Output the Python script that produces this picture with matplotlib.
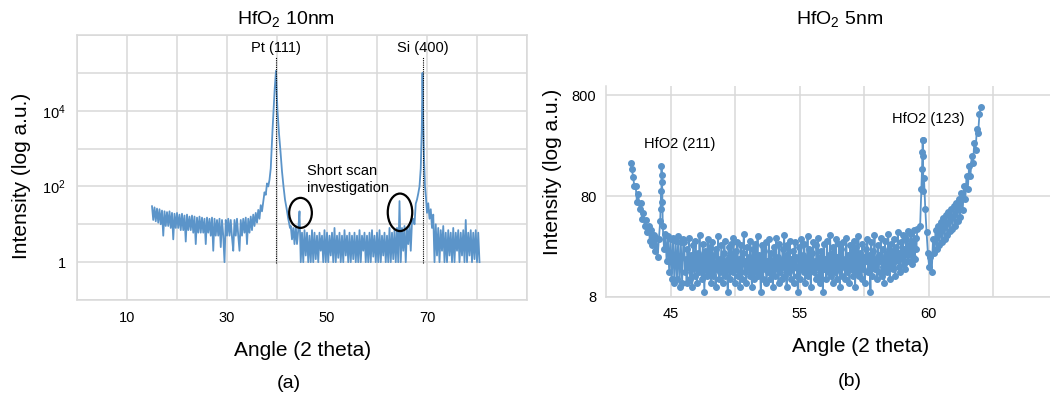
import numpy as np
import matplotlib
matplotlib.use("Agg")
import matplotlib.pyplot as plt
from matplotlib.patches import Ellipse
from matplotlib.ticker import NullFormatter, NullLocator
from matplotlib.transforms import ScaledTranslation

plt.rcParams['font.family'] = ['Liberation Sans', 'DejaVu Sans']
plt.rcParams['mathtext.fontset'] = 'custom'
plt.rcParams['mathtext.rm'] = 'Liberation Sans'
plt.rcParams['mathtext.it'] = 'Liberation Sans'

BLUE = '#5b94c9'
GRID = '#d9d9d9'

# ---- (a) HfO2 10nm, long scan -------------------------------------------
# background before Pt peak, from 15 deg, 0.25 deg step
a_bg1_start = 15.0
a_bg1 = [30, 13, 28, 12, 26, 11, 25, 10, 23, 5,
         22, 9, 21, 9, 22, 8, 20, 4, 19, 8,
         20, 8, 18, 7, 19, 7, 17, 3.5, 18, 7,
         16, 7, 17, 6, 16, 3, 15, 6, 16, 6,
         15, 6, 14, 3, 15, 6, 14, 5, 15, 2,
         14, 5, 13, 5, 14, 2.5, 13, 5, 1, 13,
         5, 14, 5, 13, 4.5, 2, 13, 5, 14, 5,
         2, 13, 5, 14, 6, 15, 3, 14, 6, 16,
         7, 18, 9, 20, 11, 24, 14, 32, 22]
# Pt (111) peak
pt_x = [37.25, 37.5, 37.75, 38.0, 38.25, 38.5, 38.75, 38.9, 39.1, 39.3, 39.55,
        39.8, 39.95, 40.1, 40.4, 40.7, 41.0, 41.3, 41.6, 41.9, 42.25, 42.6]
pt_y = [40, 70, 60, 120, 100, 150, 300, 830, 3000, 10000, 40000,
        113000, 30000, 10000, 2500, 830, 250, 100, 45, 27, 14, 8]
# background between the peaks, 0.25 deg step
a_bg2_start = 42.75
a_bg2 = [9, 4, 8, 3, 9, 3, 7, 22, 1, 6,
         1, 7, 1.5, 6, 1, 5, 1, 7, 1, 6,
         1.2, 5, 1, 6, 2, 5, 1, 7, 1, 6,
         1, 5, 1.5, 6, 1, 8, 1, 5, 1.3, 6,
         1, 5, 1, 7, 1.5, 5, 1, 6, 1, 5,
         1.2, 6, 1, 5, 1, 7, 1, 5, 2, 6,
         1, 5, 1, 6, 1, 7, 1.4, 5, 1, 6,
         1, 7, 1, 5, 1.5, 6, 1, 5, 1, 8,
         1, 6, 1.2, 7, 1, 8, 1, 41, 1, 8,
         2, 9, 1, 8, 3, 10, 2, 12]
# Si (400) peak
si_x = [67.25, 67.5, 67.75, 68.0, 68.25, 68.5, 68.75, 68.95, 69.1, 69.25,
        69.4, 69.6, 69.8, 70.0, 70.25, 70.5, 70.75, 71.0, 71.25]
si_y = [14, 10, 35, 45, 65, 100, 300, 3000, 100000, 5000,
        600, 100, 50, 20, 36, 14, 25, 8, 18]
# background after Si peak
a_bg3_start = 71.5
a_bg3 = [1, 10, 1.5, 8, 1, 7, 2, 9, 1, 6,
         1, 7, 1.5, 6, 1, 8, 1, 6, 2, 7,
         1, 6, 1.5, 7, 1, 13, 1, 6, 1.5, 7,
         1, 6, 1.2, 7, 1, 6, 1]

a_ref_x = [39.85, 69.1]
a_ref_labels = ['Pt (111)', 'Si (400)']
a_xticks = [10, 30, 50, 70]
a_yticks = [1, 1e2, 1e4]
a_yticklabels = ['1', '$10^2$', '$10^4$']
a_circles = [(44.7, 20), (64.6, 20.7)]            # (angle, intensity) centres
a_circle_size = [(0.227, 0.30), (0.245, 0.375)]   # inches

# ---- (b) HfO2 5nm, short scan -------------------------------------------
# x in gridline units of the original axis
b_bg1_start = 0.38
b_bg1 = [170, 150, 124, 100, 100, 70, 84, 60, 68, 47,
         54, 40, 46, 35, 40, 29, 37, 26, 33, 23,
         31, 20, 30, 45, 60, 40, 24, 34, 18, 32,
         14, 30, 12, 31, 11, 29, 12, 32, 10, 28,
         11, 30]
p211_x = [0.855, 0.86, 0.865, 0.87, 0.875]
p211_y = [90, 158, 130, 110, 70]
b_bg2_start = 1.2125
b_bg2 = [28, 14, 19, 11, 24, 16, 31, 12, 21, 15,
         10, 26, 18, 13, 29, 17, 11, 22, 14, 33,
         16, 20, 12, 27, 15, 9, 23, 18, 13, 30,
         19, 14, 25, 11, 17, 28, 13, 21, 16, 10,
         24, 15, 32, 12, 19, 14, 26, 17, 11, 22,
         29, 13, 18, 15, 9, 25, 20, 12, 27, 16,
         14, 31, 18, 11, 23, 15, 28, 13, 19, 10,
         26, 17, 12, 22, 34, 14, 18, 11, 25, 16,
         20, 13, 29, 15, 10, 24, 18, 12, 27, 14,
         17, 32, 13, 21, 16, 9, 26, 19, 12, 23,
         15, 28, 11, 18, 14, 30, 17, 12, 22, 16,
         10, 25, 19, 13, 31, 15, 20, 11, 27, 14,
         18, 12, 24, 16, 33, 13, 21, 10, 26, 17,
         14, 29, 12, 19, 15, 23, 11, 28, 16, 20,
         13, 9, 25, 18, 12, 30, 15, 21, 14, 27,
         11, 19, 16, 32, 13, 24, 17, 10, 22, 15,
         28, 14, 18, 12, 26, 16, 31, 13, 20, 11,
         23, 17, 9, 27, 15, 19, 12, 29, 14, 21,
         16, 33, 13, 22, 11, 25, 18, 14, 30, 12,
         20, 15, 27, 10, 24, 17, 13, 28, 16, 19,
         12, 31, 14, 21, 18, 11, 26, 15, 23, 13,
         29, 16, 10, 25, 19, 14, 32, 13, 22, 17,
         12, 27, 15, 20, 11, 24, 18, 30, 14, 21,
         16, 9, 28, 13, 23, 17, 33, 15, 19, 12,
         26, 14, 21, 18, 31, 13, 24, 16, 11, 29,
         17, 22, 14, 34, 19, 12, 27, 16, 23, 15,
         30, 18, 13, 25, 20, 35, 16, 22, 14, 28,
         19, 33, 17, 24, 15, 30, 21, 36, 18, 26,
         22, 34, 17, 29, 20, 37, 19, 31, 24, 38]
b_bg3_start = 4.87
b_bg3 = [40, 95, 287, 120, 60, 35, 22, 16, 20, 14,
         30, 22, 37, 24, 40, 26, 44, 28, 48, 30,
         52, 33, 56, 36, 60, 38, 64, 40, 68, 45,
         75, 50, 85, 58, 100, 75, 125, 95, 160, 125,
         200, 170, 270, 230, 370, 340, 520, 610]
p123_x = [4.9, 4.905, 4.91, 4.915, 4.92]
p123_y = [150, 220, 287, 200, 90]
b_xticks = [1, 3, 5]
b_xticklabels = ['45', '55', '60']
b_yticks = [8, 80, 800]
b_ref = [(1.15, 262, 'HfO2 (211)'), (4.99, 463, 'HfO2 (123)')]


def steps(start, vals, step):
    return start + step * np.arange(len(vals))


a_x = np.concatenate([steps(a_bg1_start, a_bg1, 0.25), pt_x,
                      steps(a_bg2_start, a_bg2, 0.25), si_x,
                      steps(a_bg3_start, a_bg3, 0.25)])
a_y = np.concatenate([a_bg1, pt_y, a_bg2, si_y, a_bg3]).astype(float)
o = np.argsort(a_x, kind='stable')
a_x, a_y = a_x[o], a_y[o]

b_x = np.concatenate([steps(b_bg1_start, b_bg1, 0.02), p211_x,
                      steps(b_bg2_start, b_bg2, 0.0125),
                      steps(b_bg3_start, b_bg3, 0.02), p123_x])
b_y = np.concatenate([b_bg1, p211_y, b_bg2, b_bg3, p123_y]).astype(float)
o = np.argsort(b_x, kind='stable')
b_x, b_y = b_x[o], b_y[o]

W, H = 1050, 396
fig = plt.figure(figsize=(W / 100, H / 100), dpi=100)

# ---------------- panel (a)
ax = fig.add_axes([77 / W, 1 - 300 / H, 450 / W, 265 / H])
ax.plot(a_x, a_y, color=BLUE, lw=1.3, zorder=3)
ax.set_yscale('log')
ax.set_xlim(0, 90)
ax.set_ylim(0.1, 1e6)
ax.set_xticks(np.arange(0, 91, 10), minor=True)
ax.set_xticks(a_xticks)
ax.set_yticks([10.0 ** k for k in range(-1, 7)], minor=True)
ax.set_yticks(a_yticks)
ax.set_yticklabels(a_yticklabels)
ax.yaxis.set_minor_formatter(NullFormatter())
ax.grid(True, which='both', color=GRID, lw=1.1, zorder=0)
ax.tick_params(which='both', length=0, labelsize=10.5, pad=8)
for s in ax.spines.values():
    s.set_color(GRID)
    s.set_linewidth(1.1)
for xr, lab in zip(a_ref_x, a_ref_labels):
    ax.plot([xr, xr], [0.95, 2.6e5], color='black', ls=(0, (1, 1)), lw=0.8, zorder=4)
    ax.text(xr, 4.6e5, lab, ha='center', va='center', fontsize=10.5)
ax.text(46, 150, 'Short scan\ninvestigation', ha='left', va='center',
        fontsize=10.5, linespacing=1.25)
for (cx, cy), (w, h) in zip(a_circles, a_circle_size):
    tr = fig.dpi_scale_trans + ScaledTranslation(cx, cy, ax.transData)
    ax.add_patch(Ellipse((0, 0), w, h, transform=tr, fill=False,
                         ec='black', lw=1.6, zorder=5))
fig.text(286 / W, 1 - 19 / H, 'HfO$_2$ 10nm', ha='center', va='center', fontsize=14)
fig.text(22 / W, 1 - 176 / H, 'Intensity (log a.u.)', rotation=90,
         ha='center', va='center', fontsize=15)
fig.text(303 / W, 1 - 351 / H, 'Angle (2 theta)', ha='center', va='center', fontsize=15)
fig.text(289 / W, 1 - 383 / H, '(a)', ha='center', va='center', fontsize=14)

# ---------------- panel (b)
bx = fig.add_axes([606 / W, 1 - 297 / H, (W - 606) / W, 211 / H])
bx.plot(b_x, b_y, color=BLUE, lw=1.3, marker='o', ms=4.0, mec=BLUE, mfc=BLUE,
        zorder=3, clip_on=False)
bx.set_yscale('log')
bx.set_xlim(0, (W - 606) / 64.5)
bx.set_ylim(8, 985)
bx.set_xticks(np.arange(1, 7), minor=True)
bx.set_xticks(b_xticks)
bx.set_xticklabels(b_xticklabels)
bx.set_yticks(b_yticks)
bx.set_yticklabels([str(v) for v in b_yticks])
bx.yaxis.set_minor_locator(NullLocator())
bx.grid(True, which='both', color=GRID, lw=1.1, zorder=0)
bx.tick_params(which='both', length=0, labelsize=10.5, pad=7)
for k in ['top', 'right']:
    bx.spines[k].set_visible(False)
for k in ['left', 'bottom']:
    bx.spines[k].set_color(GRID)
    bx.spines[k].set_linewidth(1.1)
for xr, yr, lab in b_ref:
    bx.text(xr, yr, lab, ha='center', va='center', fontsize=10.5)
fig.text(840 / W, 1 - 19 / H, 'HfO$_2$ 5nm', ha='center', va='center', fontsize=14)
fig.text(553 / W, 1 - 172 / H, 'Intensity (log a.u.)', rotation=90,
         ha='center', va='center', fontsize=15)
fig.text(861 / W, 1 - 347 / H, 'Angle (2 theta)', ha='center', va='center', fontsize=15)
fig.text(850 / W, 1 - 381 / H, '(b)', ha='center', va='center', fontsize=14)

fig.savefig('out.png', dpi=100)
